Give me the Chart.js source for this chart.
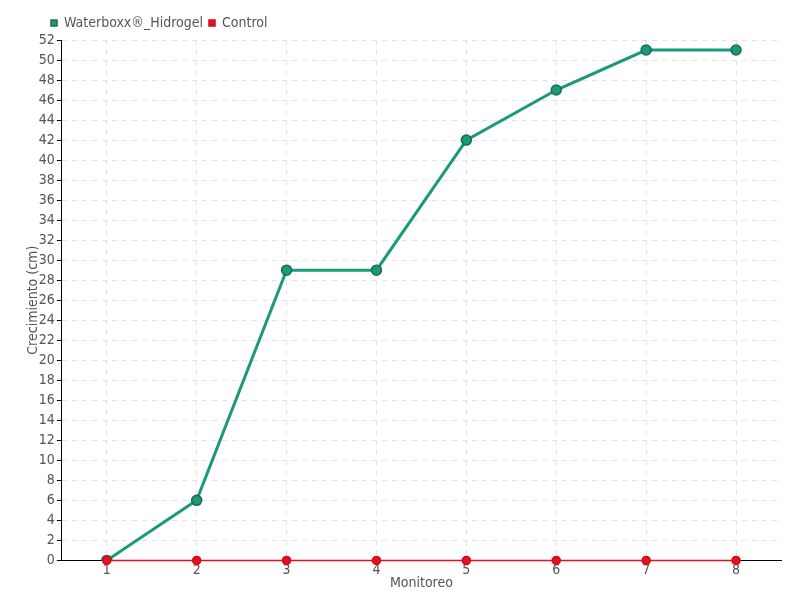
<!DOCTYPE html>
<html><head><meta charset="utf-8">
<script src="https://cdn.jsdelivr.net/npm/chart.js@4/dist/chart.umd.min.js"></script>
<style>html,body{margin:0;padding:0;background:#fff}#wrap{width:800px;height:600px}</style>
</head><body><div id="wrap"><canvas id="c" width="800" height="600"></canvas></div>
<script>
const categories = ['1','2','3','4','5','6','7','8'];
const waterboxx = [0, 6, 29, 29, 42, 47, 51, 51];
const control = [0, 0, 0, 0, 0, 0, 0, 0];
const seriesNames = ['Waterboxx®_Hidrogel', 'Control'];
const xTitle = 'Monitoreo';
const yTitle = 'Crecimiento (cm)';

const FONT = "'DejaVu Sans Condensed', 'DejaVu Sans', sans-serif";
Chart.defaults.font.family = FONT;
Chart.defaults.font.size = 14;
Chart.defaults.color = '#555';

new Chart(document.getElementById('c'), {
  type: 'line',
  data: {
    labels: categories,
    datasets: [
      {label: seriesNames[0], data: waterboxx, borderColor: '#1a9a7a', backgroundColor: '#1a9a7a',
       pointBorderColor: '#1d6b55', pointBackgroundColor: '#1a9a7a', pointBorderWidth: 1.5,
       pointRadius: 5, borderWidth: 3, tension: 0, order: 2},
      {label: seriesNames[1], data: control, borderColor: '#e8101e', backgroundColor: '#e8101e',
       pointBorderColor: '#d00c18', pointBackgroundColor: '#e8101e', pointRadius: 4,
       borderWidth: 1.5, tension: 0, order: 1, clip: false}
    ]
  },
  options: {
    responsive: false, animation: false,
    layout: {padding: {left: 20, right: 19, top: 10, bottom: 8}},
    plugins: {
      legend: {align: 'start', labels: {usePointStyle: true, pointStyle: 'rect', boxWidth: 6, boxHeight: 6, padding: 6, font: {size: 14},
        sort: (a, b) => a.datasetIndex - b.datasetIndex}},
      tooltip: {enabled: false}
    },
    scales: {
      x: {offset: true,
        grid: {color: '#e2e2e2', offset: false, drawTicks: false},
        border: {color: '#000', width: 1, dash: [5,5]},
        ticks: {padding: 2, font: {size: 14}},
        title: {display: true, text: xTitle, padding: {top: -6, bottom: 0}, font: {size: 14}}},
      y: {min: 0, max: 52,
        grid: {color: '#e2e2e2', tickColor: '#000', tickLength: 5},
        border: {color: '#000', width: 1, dash: [5,5]},
        ticks: {stepSize: 2, padding: 2, font: {size: 14}},
        title: {display: true, text: yTitle, padding: {top: 5, bottom: -5}, font: {size: 14}}}
    }
  },
  plugins: [{
    id: 'shiftLegend',
    afterLayout(chart) {
      if (chart.legend) { chart.legend.left += 25; chart.legend.right += 25; }
    }
  }]
});
</script></body></html>
